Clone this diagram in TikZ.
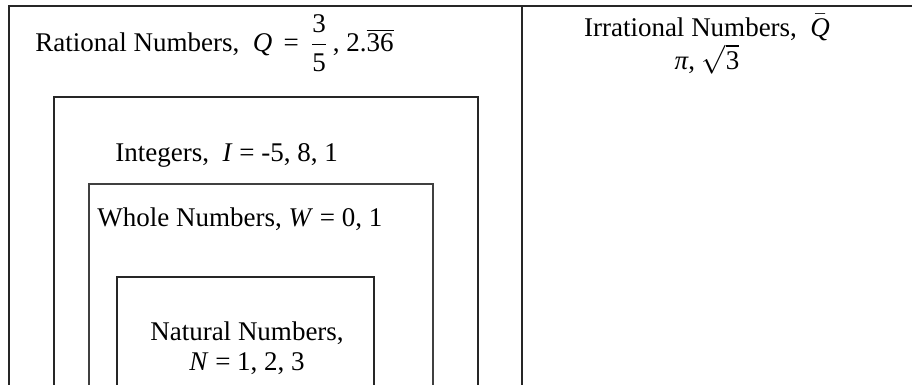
\documentclass[tikz,border=0pt]{standalone}
\usepackage{amsmath}
\usepackage{fontspec}
\setmainfont{Liberation Serif}
\usetikzlibrary{positioning}
\newcommand{\setvar}[1]{\textit{#1}}
\newcommand{\setfont}{\fontsize{13.5}{15}\selectfont}
\tikzset{
  frame/.style ={draw=black!85, line width=1.1pt},
  lbl/.style   ={font=\setfont, inner sep=0pt, anchor=base west},
  lblc/.style  ={font=\setfont, inner sep=0pt, anchor=base, align=center},
}

\begin{document}
\begin{tikzpicture}[x=0.5pt, y=-0.5pt]
  \useasboundingbox (0,0) rectangle (912,385);
  \clip (0,0) rectangle (912,385);

  % outer frame and divider
  \draw[frame] (912,6) -- (9,6) -- (9,385);
  \draw[frame] (522,6) -- (522,385);

  % nested sets (open at the bottom)
  \draw[frame] (54,385) |- (478,97) -- (478,385);
  \draw[frame, draw=black!75] (89,385) |- (433,184) -- (433,385);
  \draw[frame] (117,385) |- (374,277) -- (374,385);

  % labels
  \node[lbl] (rat) at (35,52)
    {Rational Numbers, \ \setvar{Q} \,=\, $\dfrac{\text{3}}{\text{5}}$\,, 2.$\overline{\text{36}}$};
  \node[lbl] (int) at (115,162)
    {Integers, \ \setvar{I} = -5, 8, 1};
  \node[lbl] (whole) at (97,227)
    {Whole Numbers, \setvar{W} = 0, 1};
  \node[lblc] (nat) at (247,371)
    {Natural Numbers,\\ \setvar{N} = 1, 2, 3};
  \node[lblc, font=\fontsize{13.5}{17}\selectfont] (irr) at (707,70)
    {Irrational Numbers, \ $\bar{\text{\itshape Q}}$\\ \setvar{π}, $\sqrt{\text{3}}$};
\end{tikzpicture}
\end{document}
